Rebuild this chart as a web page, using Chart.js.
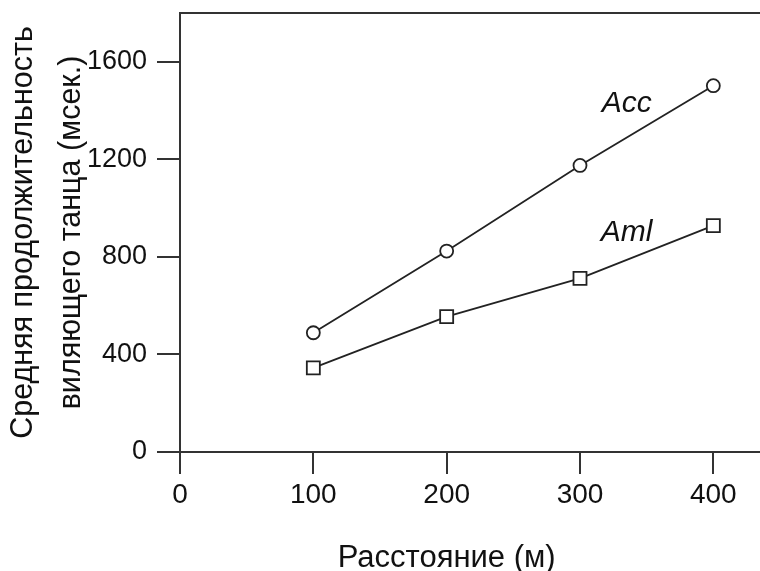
<!DOCTYPE html>
<html>
<head>
<meta charset="utf-8">
<script src="https://cdn.jsdelivr.net/npm/chart.js@4/dist/chart.umd.min.js"></script>
<style>
  html, body { margin: 0; padding: 0; background: #fff; }
  #wrap { width: 760px; height: 571px; }
</style>
</head>
<body>
<div id="wrap"><canvas id="grafico"></canvas></div>
<script>
// Datos
const distancias = [100, 200, 300, 400];
const accValores = [489, 824, 1175, 1502];
const amlValores = [345, 555, 712, 928];
const xTicks = [0, 100, 200, 300, 400];
const yTicks = [0, 400, 800, 1200, 1600];
const etiquetas = [
  { texto: 'Acc', x: 335, y: 1428 },
  { texto: 'Aml', x: 335, y: 898 }
];
const tituloX = 'Расстояние (м)';
const tituloY = ['Средняя продолжительность', 'виляющего танца (мсек.)'];

const FUENTE = '"Liberation Sans", Arial, sans-serif';
const GRIS = '#333';

// borde superior del marco, etiquetas de series y titulo del eje X
const marcoPlugin = {
  id: 'marco',
  afterDraw(chart) {
    const { ctx, chartArea, scales } = chart;
    ctx.save();
    ctx.strokeStyle = GRIS;
    ctx.lineWidth = 2;
    ctx.beginPath();
    ctx.moveTo(chartArea.left - 1, chartArea.top);
    ctx.lineTo(chartArea.right, chartArea.top);
    ctx.stroke();

    ctx.fillStyle = '#111';
    ctx.font = 'italic 30px ' + FUENTE;
    ctx.textAlign = 'center';
    ctx.textBaseline = 'middle';
    etiquetas.forEach(e => {
      ctx.fillText(e.texto, scales.x.getPixelForValue(e.x), scales.y.getPixelForValue(e.y));
    });

    // titulo centrado bajo el rango 0-400
    ctx.font = '31px ' + FUENTE;
    ctx.textBaseline = 'alphabetic';
    ctx.fillText(tituloX, scales.x.getPixelForValue(200), chartArea.bottom + 115);
    ctx.restore();
  }
};

const serie = (label, valores, estilo, radio) => ({
  label,
  data: distancias.map((d, i) => ({ x: d, y: valores[i] })),
  borderColor: '#222',
  borderWidth: 1.8,
  pointStyle: estilo,
  pointRadius: radio,
  pointBackgroundColor: '#fff',
  pointBorderColor: '#222',
  pointBorderWidth: 1.8,
  tension: 0
});

new Chart(document.getElementById('grafico'), {
  type: 'line',
  data: {
    datasets: [
      serie('Acc', accValores, 'circle', 6.5),
      serie('Aml', amlValores, 'rect', 9.2)
    ]
  },
  options: {
    responsive: true,
    maintainAspectRatio: false,
    animation: false,
    layout: { autoPadding: false, padding: { top: 13, right: 0, bottom: 0, left: 0 } },
    plugins: { legend: { display: false }, tooltip: { enabled: false } },
    scales: {
      x: {
        type: 'linear',
        min: 0,
        max: 435,
        afterBuildTicks: s => { s.ticks = xTicks.map(v => ({ value: v })); },
        afterFit: s => { s.height = 119; s.paddingLeft = 0; s.paddingRight = 0; },
        ticks: { color: '#111', font: { family: FUENTE, size: 28 }, padding: 4, maxRotation: 0, callback: v => String(v) },
        grid: { drawOnChartArea: false, color: GRIS, lineWidth: 2, tickLength: 22 },
        border: { color: GRIS, width: 2 }
      },
      y: {
        min: 0,
        max: 1800,
        afterBuildTicks: s => { s.ticks = yTicks.map(v => ({ value: v })); },
        afterFit: s => { s.width = 180; s.paddingTop = 0; s.paddingBottom = 0; },
        ticks: { color: '#111', font: { family: FUENTE, size: 27 }, padding: 10, callback: v => String(v) },
        grid: { drawOnChartArea: false, color: GRIS, lineWidth: 2, tickLength: 23 },
        border: { color: GRIS, width: 2 },
        title: {
          display: true,
          text: tituloY,
          color: '#111',
          font: { family: FUENTE, size: 30.5, lineHeight: 1.58 },
          padding: { top: -1, bottom: 0 }
        }
      }
    }
  },
  plugins: [marcoPlugin]
});
</script>
</body>
</html>
